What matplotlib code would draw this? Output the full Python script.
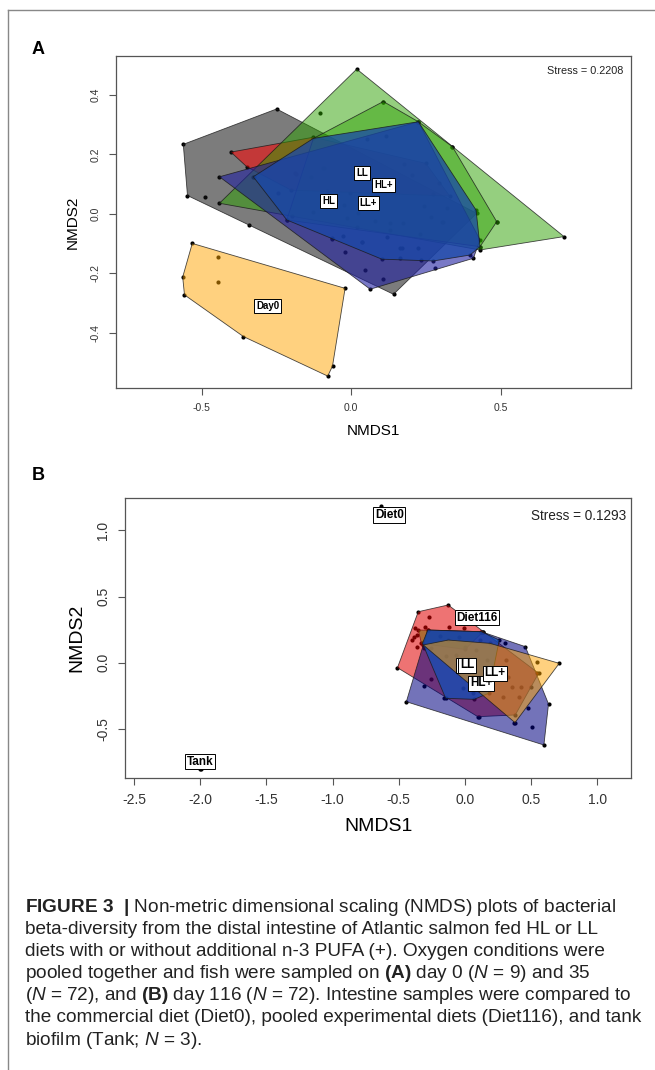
import numpy as np
import matplotlib
matplotlib.use("Agg")
import matplotlib.pyplot as plt
from matplotlib.patches import Polygon
from matplotlib.lines import Line2D

plt.rcParams['font.family'] = ['Liberation Sans', 'DejaVu Sans']
plt.rcParams['mathtext.fontset'] = 'custom'
plt.rcParams['mathtext.rm'] = 'Liberation Sans'
plt.rcParams['mathtext.it'] = 'Liberation Sans:italic'
plt.rcParams['mathtext.bf'] = 'Liberation Sans:bold'

# ---------------- panel A (day 0 and day 35) ----------------
a_gray_x = [-0.561, -0.249, 0.420, 0.142, -0.340, -0.547, -0.488]
a_gray_y = [0.234, 0.353, 0.002, -0.270, -0.037, 0.062, 0.056]
a_red_x = [-0.402, -0.126, 0.250, 0.330, -0.200, -0.349]
a_red_y = [0.208, 0.258, 0.170, 0.060, 0.080, 0.159]
a_green_x = [0.019, 0.712, 0.431, -0.440, -0.104, 0.108, 0.339, 0.487]
a_green_y = [0.487, -0.076, -0.121, 0.036, 0.341, 0.378, 0.226, -0.026]
a_green2_x = [-0.126, 0.108, 0.225, 0.339, 0.487, 0.431, -0.215]
a_green2_y = [0.254, 0.378, 0.310, 0.226, -0.026, -0.110, -0.020]
a_indigo_x = [-0.440, 0.064, 0.409, 0.431, 0.225]
a_indigo_y = [0.125, -0.253, -0.149, -0.087, 0.310]
a_blue_x = [-0.327, -0.126, 0.225, 0.418, 0.431, 0.398, 0.275, 0.103, -0.215]
a_blue_y = [0.125, 0.254, 0.310, 0.013, -0.110, -0.138, -0.158, -0.152, -0.020]
a_day0_x = [-0.531, -0.020, -0.062, -0.078, -0.360, -0.557, -0.563, -0.446, -0.444]
a_day0_y = [-0.099, -0.250, -0.511, -0.545, -0.412, -0.272, -0.212, -0.143, -0.230]

# remaining day 35 samples inside the hulls
a_pts_x = [0.052, 0.116, 0.177, 0.203, 0.294, 0.275, 0.245, 0.320, 0.303, 0.267,
           0.231, 0.225, 0.170, 0.130, 0.130, 0.080, 0.119, 0.175, -0.003, -0.022,
           -0.014, 0.019, -0.028, -0.065, 0.038, -0.020, 0.106, 0.047, 0.281, 0.233,
           0.164, -0.090, -0.135, -0.184, -0.243, -0.323, -0.198, -0.126, -0.081, -0.187,
           -0.093, 0.024, -0.065, 0.036, 0.309, 0.164]
a_pts_y = [0.252, 0.261, 0.167, 0.132, 0.103, 0.066, 0.028, 0.021, -0.026, -0.011,
           -0.068, -0.113, -0.113, -0.029, -0.054, -0.022, -0.076, -0.031, 0.072, 0.031,
           -0.015, -0.045, -0.073, -0.083, -0.094, -0.127, -0.218, -0.188, -0.180, -0.155,
           -0.149, 0.156, 0.123, 0.133, 0.072, 0.125, -0.007, 0.008, 0.078, 0.137,
           0.154, 0.002, -0.082, -0.093, -0.026, -0.115]

a_lab = ["LL", "HL+", "HL", "LL+", "Day0"]
a_lab_x = [0.036, 0.108, -0.076, 0.058, -0.279]
a_lab_y = [0.139, 0.096, 0.045, 0.038, -0.308]
a_stress = "Stress = 0.2208"

# ---------------- panel B (day 116) ----------------
b_red_x = [-0.510, -0.353, -0.127, 0.137, 0.556, 0.380, 0.097]
b_red_y = [-0.038, 0.385, 0.436, 0.234, -0.080, -0.395, -0.408]
b_green_x = [-0.353, 0.137, -0.329, 0.000]
b_green_y = [0.247, 0.234, 0.146, 0.100]
b_indigo_x = [-0.443, 0.596, 0.631, 0.456, 0.124, -0.281]
b_indigo_y = [-0.295, -0.622, -0.312, 0.121, 0.234, 0.247]
b_blue_x = [-0.281, 0.124, 0.259, 0.178, 0.070, -0.146, -0.321]
b_blue_y = [0.247, 0.234, 0.171, -0.231, -0.277, -0.269, 0.146]
b_orange_x = [-0.315, -0.126, 0.189, 0.541, 0.712, 0.378]
b_orange_y = [0.134, 0.171, 0.146, 0.008, -0.005, -0.453]

b_pts_x = [-0.275, -0.375, -0.388, -0.362, -0.362, -0.402, -0.119, -0.011, -0.302, -0.307,
           -0.186, -0.043, 0.110, 0.299, -0.254, -0.307, -0.159, -0.016, 0.057, 0.103,
           0.372, 0.475, 0.507, -0.254, -0.146, -0.065, 0.003, 0.084, 0.165, 0.307,
           0.232, 0.353, 0.286, 0.421, 0.496, 0.542, 0.407, 0.326]
b_pts_y = [0.343, 0.260, 0.196, 0.209, 0.121, 0.171, 0.272, 0.260, 0.272, 0.109,
           0.202, 0.192, 0.171, 0.151, -0.125, -0.176, -0.269, -0.193, -0.227, -0.412,
           -0.458, -0.344, -0.483, 0.109, 0.051, 0.058, 0.116, 0.096, 0.020, 0.020,
           -0.042, -0.181, -0.257, -0.181, -0.181, -0.080, -0.257, -0.106]
b_diet0_x = [-0.631]
b_diet0_y = [1.183]
b_tank_x = [-2.000, -1.995, -2.003]
b_tank_y = [-0.800, -0.803, -0.798]

b_lab = ["Diet0", "Diet116", "Tank", "HL", "LL", "HL+", "LL+"]
b_lab_x = [-0.572, 0.091, -2.000, 0.004, 0.016, 0.124, 0.227]
b_lab_y = [1.116, 0.340, -0.748, -0.020, -0.020, -0.156, -0.080]
b_stress = "Stress = 0.1293"


def hull(xs, ys):
    pts = sorted(set(zip(xs, ys)))
    if len(pts) < 3:
        return np.array(pts)

    def cross(o, a, b):
        return (a[0]-o[0])*(b[1]-o[1]) - (a[1]-o[1])*(b[0]-o[0])
    lower, upper = [], []
    for p in pts:
        while len(lower) >= 2 and cross(lower[-2], lower[-1], p) <= 0:
            lower.pop()
        lower.append(p)
    for p in reversed(pts):
        while len(upper) >= 2 and cross(upper[-2], upper[-1], p) <= 0:
            upper.pop()
        upper.append(p)
    return np.array(lower[:-1] + upper[:-1])


def draw_hull(ax, xs, ys, color, alpha):
    h = hull(xs, ys)
    fc = matplotlib.colors.to_rgba(color, alpha)
    ax.add_patch(Polygon(h, closed=True, facecolor=fc, edgecolor=(0.1, 0.1, 0.1, 0.8),
                         linewidth=0.6, zorder=3))


def style_axes(ax, tsize):
    for s in ax.spines.values():
        s.set_color('#555555')
        s.set_linewidth(0.9)
    ax.tick_params(direction='out', length=5, width=0.8, color='#555555',
                   labelsize=tsize, labelcolor='#333333', pad=6)
    for t in ax.get_yticklabels():
        t.set_rotation(90)
        t.set_va('center')


fig = plt.figure(figsize=(6.55, 10.7), dpi=100)

# ---- A
ax = fig.add_axes([116/655, 1-388/1070, 515/655, 332/1070])
ax.scatter(a_pts_x + a_gray_x + a_red_x + a_green_x + a_green2_x + a_indigo_x + a_blue_x + a_day0_x,
           a_pts_y + a_gray_y + a_red_y + a_green_y + a_green2_y + a_indigo_y + a_blue_y + a_day0_y,
           s=9, color='black', zorder=2, linewidths=0)
draw_hull(ax, a_gray_x, a_gray_y, '#111111', 0.55)
draw_hull(ax, a_red_x, a_red_y, '#ff0000', 0.55)
draw_hull(ax, a_green_x, a_green_y, '#2ca000', 0.5)
draw_hull(ax, a_green2_x, a_green2_y, '#2ca000', 0.45)
draw_hull(ax, a_indigo_x, a_indigo_y, '#2020a0', 0.6)
draw_hull(ax, a_blue_x, a_blue_y, '#1848a8', 0.75)
draw_hull(ax, a_day0_x, a_day0_y, '#ffa500', 0.5)
for t, x, y in zip(a_lab, a_lab_x, a_lab_y):
    ax.text(x, y, t, fontsize=7, fontweight='bold', ha='center', va='center', zorder=5,
            bbox=dict(boxstyle='square,pad=0.2', fc='white', ec='black', lw=0.7))
ax.text(0.985, 0.955, a_stress, transform=ax.transAxes, ha='right', va='center', fontsize=7.8,
        color='#222222')
ax.set_xlim(-0.786, 0.936)
ax.set_ylim(-0.585, 0.531)
ax.set_xticks([-0.5, 0.0, 0.5])
ax.set_yticks([-0.4, -0.2, 0.0, 0.2, 0.4])
ax.set_xticklabels(["-0.5", "0.0", "0.5"])
ax.set_yticklabels(["-0.4", "-0.2", "0.0", "0.2", "0.4"])
style_axes(ax, 7.5)
ax.set_xlabel("NMDS1", fontsize=11, labelpad=8)
ax.set_ylabel("NMDS2", fontsize=11, labelpad=8)

# ---- B
bx = fig.add_axes([125.4/655, 1-777.7/1070, 505.6/655, 279.4/1070])
bx.scatter(b_pts_x + b_red_x + b_green_x + b_indigo_x + b_blue_x + b_orange_x + b_diet0_x + b_tank_x,
           b_pts_y + b_red_y + b_green_y + b_indigo_y + b_blue_y + b_orange_y + b_diet0_y + b_tank_y,
           s=9, color='black', zorder=2, linewidths=0)
draw_hull(bx, b_green_x, b_green_y, '#00e000', 0.55)
draw_hull(bx, b_red_x, b_red_y, '#e00000', 0.55)
draw_hull(bx, b_indigo_x, b_indigo_y, '#000080', 0.55)
draw_hull(bx, b_blue_x, b_blue_y, '#1050b8', 0.72)
draw_hull(bx, b_orange_x, b_orange_y, '#ffa500', 0.5)
for i, (t, x, y) in enumerate(zip(b_lab, b_lab_x, b_lab_y)):
    bx.text(x, y, t, fontsize=8.5, fontweight='bold', ha='center', va='center', zorder=5 + i * 0.1,
            bbox=dict(boxstyle='square,pad=0.15', fc='white', ec='black', lw=0.7))
bx.text(0.99, 0.935, b_stress, transform=bx.transAxes, ha='right', va='center', fontsize=9.8,
        color='#222222')
bx.set_xlim(-2.565, 1.254)
bx.set_ylim(-0.869, 1.242)
bx.set_xticks([-2.5, -2.0, -1.5, -1.0, -0.5, 0.0, 0.5, 1.0])
bx.set_xticklabels(["-2.5", "-2.0", "-1.5", "-1.0", "-0.5", "0.0", "0.5", "1.0"])
bx.set_yticks([-0.5, 0.0, 0.5, 1.0])
bx.set_yticklabels(["-0.5", "0.0", "0.5", "1.0"])
style_axes(bx, 10)
bx.set_xlabel("NMDS1", fontsize=14, labelpad=8)
bx.set_ylabel("NMDS2", fontsize=14, labelpad=8)

# panel letters and frame
fig.text(38/655, 1-50/1070, "A", fontsize=13, fontweight='bold', ha='center', va='center')
fig.text(38/655, 1-475/1070, "B", fontsize=13, fontweight='bold', ha='center', va='center')
fig.add_artist(Line2D([7.5/655, 7.5/655], [0, 1-9.5/1070], transform=fig.transFigure,
                      color='#888888', lw=1))
fig.add_artist(Line2D([7.5/655, 1], [1-9.5/1070, 1-9.5/1070], transform=fig.transFigure,
                      color='#888888', lw=1))

# caption
caption = [
    r"$\mathbf{FIGURE\ 3\ \ |}$ Non-metric dimensional scaling (NMDS) plots of bacterial",
    "beta-diversity from the distal intestine of Atlantic salmon fed HL or LL",
    "diets with or without additional n-3 PUFA (+). Oxygen conditions were",
    r"pooled together and fish were sampled on $\mathbf{(A)}$ day 0 ($\mathit{N}$ = 9) and 35",
    r"($\mathit{N}$ = 72), and $\mathbf{(B)}$ day 116 ($\mathit{N}$ = 72). Intestine samples were compared to",
    "the commercial diet (Diet0), pooled experimental diets (Diet116), and tank",
    r"biofilm (Tank; $\mathit{N}$ = 3).",
]
for i, line in enumerate(caption):
    fig.text(25/655, 1-(907+22.2*i)/1070, line, fontsize=13.7, ha='left', va='center',
             color='#222222')

fig.savefig("out.png", dpi=100)
